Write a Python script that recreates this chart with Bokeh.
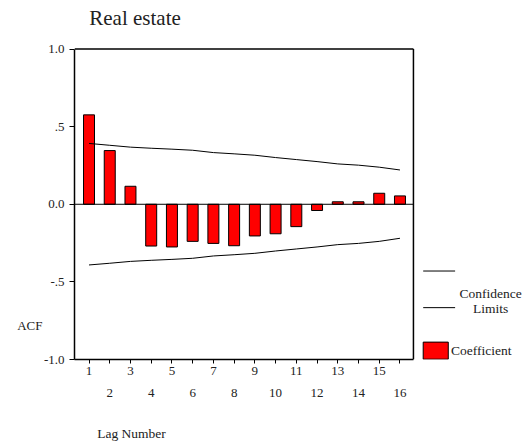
from bokeh.plotting import figure
from bokeh.models import (Range1d, LinearAxis, FixedTicker, Label, Arrow, BoxAnnotation)
from bokeh.embed import file_html
from bokeh.resources import INLINE

# Data
title_text = "Real estate"
lags = list(range(1, 17))
acf = [0.576, 0.346, 0.116, -0.269, -0.275, -0.239, -0.252, -0.267,
       -0.204, -0.190, -0.144, -0.040, 0.016, 0.016, 0.071, 0.054]
upper_limit = [0.392, 0.380, 0.368, 0.361, 0.355, 0.348, 0.333, 0.325,
               0.316, 0.301, 0.288, 0.275, 0.260, 0.252, 0.239, 0.221]
lower_limit = [-0.391, -0.380, -0.368, -0.361, -0.355, -0.348, -0.333, -0.325,
               -0.316, -0.301, -0.288, -0.275, -0.260, -0.252, -0.239, -0.219]
y_ticks = [-1.0, -0.5, 0.0, 0.5, 1.0]
y_tick_labels = ["-1.0", "-.5", "0.0", ".5", "1.0"]

FONT = "Liberation Serif, Times New Roman, serif"
TXT = "#222222"
X0, X1 = 0.3, 16.65  # plot box in data units

p = figure(width=528, height=447, output_backend="svg", toolbar_location=None,
           x_range=Range1d(X0, 22.2), y_range=Range1d(-1.0, 1.01),
           x_axis_location=None, y_axis_location=None,
           min_border_left=74, min_border_right=0, min_border_top=47, min_border_bottom=88)
p.grid.visible = False
p.outline_line_color = None
p.background_fill_color = "white"
p.border_fill_color = "white"

def bare(ax):
    ax.axis_line_color = None
    ax.major_tick_line_color = None
    ax.minor_tick_line_color = None
    ax.major_tick_out = 0
    ax.major_tick_in = 0
    ax.minor_tick_out = 0
    ax.minor_tick_in = 0

def style_labels(ax, size="13px"):
    ax.major_label_text_font = FONT
    ax.major_label_text_font_size = size
    ax.major_label_text_color = TXT

# Title, as a line-less axis above the plot box
title_ax = LinearAxis(ticker=FixedTicker(ticks=[3.22]), major_label_overrides={3.22: title_text})
bare(title_ax)
title_ax.major_label_standoff = 18
style_labels(title_ax, "21px")
p.add_layout(title_ax, "above")

# Y axis
yax = LinearAxis(ticker=FixedTicker(ticks=y_ticks), bounds=(-1, 1),
                 major_label_overrides={t: l for t, l in zip(y_ticks, y_tick_labels)})
yax.axis_line_width = 1.5
yax.major_tick_out = 5
yax.major_tick_in = 0
yax.minor_tick_out = 0
yax.minor_tick_in = 0
yax.major_label_standoff = 5
style_labels(yax)
p.add_layout(yax, "left")

# "ACF" label as a second, line-less left axis
acf_ax = LinearAxis(ticker=FixedTicker(ticks=[-0.781]), major_label_overrides={-0.781: "ACF"})
bare(acf_ax)
acf_ax.major_label_standoff = -2
style_labels(acf_ax, "13px")
p.add_layout(acf_ax, "left")

# X axis: odd labels on first row
odd_over = {l: (str(l) if l % 2 == 1 else "") for l in lags}
xax = LinearAxis(ticker=FixedTicker(ticks=lags), major_label_overrides=odd_over, bounds=(X0, X1))
xax.axis_line_width = 1.5
xax.major_tick_out = 4
xax.major_tick_in = 0
xax.minor_tick_out = 0
xax.minor_tick_in = 0
xax.major_label_standoff = 3
style_labels(xax)
p.add_layout(xax, "below")

# Second row: even labels
even_lags = [l for l in lags if l % 2 == 0]
xax2 = LinearAxis(ticker=FixedTicker(ticks=even_lags),
                  major_label_overrides={l: str(l) for l in even_lags})
bare(xax2)
xax2.major_label_standoff = 11
style_labels(xax2)
p.add_layout(xax2, "below")

# "Lag Number" as a third, line-less axis
lag_ax = LinearAxis(ticker=FixedTicker(ticks=[3.05]), major_label_overrides={3.05: "Lag Number"})
bare(lag_ax)
lag_ax.major_label_standoff = 26
style_labels(lag_ax, "13.5px")
p.add_layout(lag_ax, "below")

# Plot box top/right edges and zero line
p.add_layout(Arrow(end=None, x_start=X0, y_start=1, x_end=X1, y_end=1,
                   line_color="black", line_width=1.5))
p.add_layout(Arrow(end=None, x_start=X1, y_start=-1, x_end=X1, y_end=1,
                   line_color="black", line_width=1.5))
p.add_layout(Arrow(end=None, x_start=X0, y_start=0, x_end=X1, y_end=0,
                   line_color="black", line_width=1))

# Bars
bars = p.vbar(x=lags, top=acf, bottom=0, width=0.53, fill_color="#ff0000",
              line_color="black", line_width=1)

# Confidence limits
p.line(lags, upper_limit, line_color="black", line_width=1)
p.line(lags, lower_limit, line_color="black", line_width=1)

# Legend
p.add_layout(Arrow(end=None, x_start=17.12, y_start=-0.430, x_end=18.66, y_end=-0.430,
                   line_color="black", line_width=1))
p.add_layout(Arrow(end=None, x_start=17.12, y_start=-0.666, x_end=18.66, y_end=-0.666,
                   line_color="black", line_width=1))
p.add_layout(Label(x=20.37, y=-0.572, text="Confidence", text_font=FONT, text_font_size="13.5px",
                   text_color=TXT, text_baseline="middle", text_align="center"))
p.add_layout(Label(x=20.37, y=-0.673, text="Limits", text_font=FONT, text_font_size="13.5px",
                   text_color=TXT, text_baseline="middle", text_align="center"))
p.add_layout(BoxAnnotation(left=17.12, right=18.33, top=-0.888, bottom=-0.998,
                           fill_color="#ff0000", fill_alpha=1, line_color="black",
                           line_alpha=1, line_width=1))
p.add_layout(Label(x=18.46, y=-0.942, text="Coefficient", text_font=FONT, text_font_size="13.5px",
                   text_color=TXT, text_baseline="middle", text_align="left"))

open("out.html", "w").write(file_html(p, INLINE))
